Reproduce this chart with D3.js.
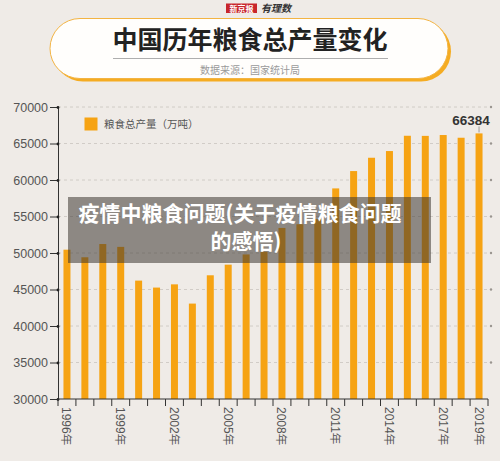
<!DOCTYPE html>
<html>
<head>
<meta charset="utf-8">
<script src="https://cdn.jsdelivr.net/npm/d3@7/dist/d3.min.js"></script>
<style>
  html, body { margin: 0; padding: 0; background: #efebe7; }
  svg { display: block; }
</style>
</head>
<body>
<svg id="chart" width="500" height="461"></svg>
<script>
const years = ["1996","1997","1998","1999","2000","2001","2002","2003","2004","2005","2006","2007",
               "2008","2009","2010","2011","2012","2013","2014","2015","2016","2017","2018","2019"];
const production = [50454, 49417, 51230, 50839, 46218, 45264, 45706, 43070, 46947, 48402, 49804, 50160,
                    53434, 53941, 54648, 58849, 61223, 63048, 63965, 66060, 66044, 66161, 65789, 66384];
const yTicks = [30000, 35000, 40000, 45000, 50000, 55000, 60000, 65000, 70000];
const xLabelYears = ["1996","1999","2002","2005","2008","2011","2014","2017","2019"];
const titleText = "中国历年粮食总产量变化";
const sourceText = "数据来源：国家统计局";
const legendText = "粮食总产量（万吨）";
const overlayLines = ["疫情中粮食问题(关于疫情粮食问题", "的感悟)"];
const highlightYear = "2019";

const CJK = "'Noto Sans CJK SC', 'Noto Sans', sans-serif";
const NUM = "'Liberation Sans', 'Noto Sans', Arial, sans-serif";
const ORANGE = "#f6a313";

const svg = d3.select("#chart");

// background
svg.append("rect").attr("width", 500).attr("height", 461).attr("fill", "#efebe7");

// logo
svg.append("rect").attr("x", 226).attr("y", 3.5).attr("width", 31).attr("height", 9.5).attr("fill", "#c8262b");
svg.append("text").attr("x", 241.5).attr("y", 11.5).attr("text-anchor", "middle")
  .attr("font-family", CJK).attr("font-weight", "bold").attr("font-size", 8).attr("fill", "#fff").text("新京报");
svg.append("text").attr("x", 261).attr("y", 12).attr("font-family", CJK).attr("font-style", "italic")
  .attr("font-weight", "bold").attr("font-size", 10).attr("fill", "#333").text("有理数");

// title pill
svg.append("rect").attr("x", 53).attr("y", 21.5).attr("width", 398).attr("height", 60).attr("rx", 30).attr("fill", "#f5ac22");
svg.append("rect").attr("x", 50).attr("y", 18.5).attr("width", 398).attr("height", 60).attr("rx", 30)
  .attr("fill", "#fffefc").attr("stroke", "#f3b443").attr("stroke-width", 1);
svg.append("text").attr("x", 250).attr("y", 49).attr("text-anchor", "middle")
  .attr("font-family", CJK).attr("font-weight", "bold").attr("font-size", 25).attr("fill", "#222").text(titleText);
svg.append("line").attr("x1", 113).attr("x2", 388).attr("y1", 58.5).attr("y2", 58.5)
  .attr("stroke", "#999").attr("stroke-width", 0.8);
svg.append("text").attr("x", 250).attr("y", 74).attr("text-anchor", "middle")
  .attr("font-family", CJK).attr("font-size", 10).attr("fill", "#9a9a9a").text(sourceText);

// scales
const x = d3.scaleBand().domain(years).range([58, 488]).paddingInner(0.61).paddingOuter(0.305);
const y = d3.scaleLinear().domain([30000, 70000]).range([399, 107]);

// gridlines
const grid = svg.append("g");
yTicks.filter(t => t > 30000).forEach(t => {
  grid.append("line").attr("x1", 58).attr("x2", 488).attr("y1", y(t)).attr("y2", y(t))
    .attr("stroke", "#c9c4bf").attr("stroke-width", 0.8).attr("stroke-dasharray", "3,3");
  grid.append("circle").attr("cx", 491).attr("cy", y(t)).attr("r", 1.2).attr("fill", "#9a9590");
});

// bars
svg.append("g").selectAll("rect").data(years).join("rect")
  .attr("x", d => x(d)).attr("width", x.bandwidth())
  .attr("y", (d, i) => y(production[i])).attr("height", (d, i) => y(30000) - y(production[i]))
  .attr("fill", ORANGE);

// y axis
const yAxis = d3.axisLeft(y).tickValues(yTicks).tickSize(8).tickPadding(2).tickFormat(d3.format("d"));
const yg = svg.append("g").attr("transform", "translate(58,0)").call(yAxis);
yg.select(".domain").attr("stroke", "#333").attr("stroke-width", 1);
yg.selectAll(".tick line").attr("stroke", "#333");
yg.selectAll(".tick text").attr("font-family", NUM).attr("font-size", 12.5).attr("fill", "#555");
yg.selectAll(".tick").append("circle").attr("r", 1.4).attr("fill", "#222");

// x axis
const xg = svg.append("g");
xg.append("line").attr("x1", 58).attr("x2", 488).attr("y1", 399).attr("y2", 399).attr("stroke", "#333").attr("stroke-width", 1);
d3.range(years.length + 1).forEach(i => {
  const xx = 58 + i * x.step();
  xg.append("line").attr("x1", xx).attr("x2", xx).attr("y1", 399).attr("y2", 406).attr("stroke", "#333");
});
xg.selectAll("text.xl").data(xLabelYears).join("text").attr("class", "xl")
  .attr("transform", d => `translate(${x(d) + x.bandwidth() / 2 - 4.5},407) rotate(90)`)
  .attr("font-family", NUM).attr("font-size", 12).attr("fill", "#555")
  .each(function(d) {
    const t = d3.select(this);
    t.append("tspan").text(d);
    t.append("tspan").attr("font-family", CJK).attr("font-size", 11.5).text("年");
  });

// highlight label
const hi = years.indexOf(highlightYear);
const hx = x(highlightYear) + x.bandwidth() / 2;
svg.append("line").attr("x1", hx).attr("x2", hx).attr("y1", y(production[hi]) - 1).attr("y2", y(production[hi]) - 7)
  .attr("stroke", "#888").attr("stroke-width", 0.8);
svg.append("text").attr("x", hx - 8).attr("y", 125).attr("text-anchor", "middle")
  .attr("font-family", NUM).attr("font-weight", "600").attr("font-size", 13.5).attr("fill", "#333").text(production[hi]);

// legend
svg.append("rect").attr("x", 84.5).attr("y", 117.5).attr("width", 13).attr("height", 13).attr("fill", ORANGE);
svg.append("text").attr("x", 104).attr("y", 128).attr("font-family", CJK).attr("font-size", 10.5)
  .attr("fill", "#555").text(legendText);

// overlay
svg.append("rect").attr("x", 68).attr("y", 197).attr("width", 363).attr("height", 66)
  .attr("fill", "rgb(60,55,50)").attr("fill-opacity", 0.55);
svg.append("text").attr("x", 240).attr("y", 221).attr("text-anchor", "middle")
  .attr("font-family", CJK).attr("font-weight", "bold").attr("font-size", 21).attr("fill", "#fff").text(overlayLines[0]);
svg.append("text").attr("x", 246).attr("y", 249).attr("text-anchor", "middle")
  .attr("font-family", CJK).attr("font-weight", "bold").attr("font-size", 21).attr("fill", "#fff").text(overlayLines[1]);
</script>
</body>
</html>
